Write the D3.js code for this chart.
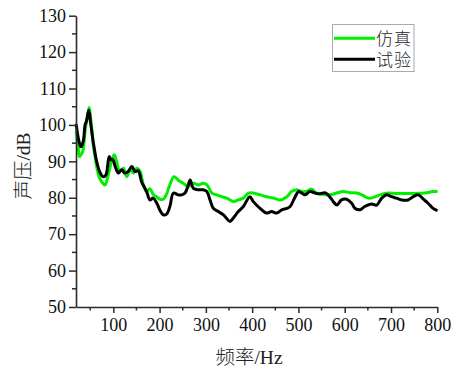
<!DOCTYPE html>
<html>
<head>
<meta charset="utf-8">
<script src="https://cdn.jsdelivr.net/npm/d3@7"></script>
<style>
  html, body { margin: 0; padding: 0; background: #fff; }
  svg { display: block; }
</style>
</head>
<body>
<svg id="chart" width="455" height="370"></svg>
<script>
// Simulated (仿真) sound pressure level, frequency in Hz and level in dB
const simFreq = [20, 24, 27, 31, 34, 39, 42, 45, 48, 51, 57, 64, 70, 75, 82, 89, 97, 102, 107, 114,
  122, 129, 136, 143, 151, 158, 165, 172, 179, 186, 194, 201, 208, 215, 222, 231, 240, 251, 262, 273,
  284, 294, 302, 313, 323, 334, 345, 359, 370, 381, 392, 402, 417, 431, 446, 460, 475, 485, 496, 507,
  518, 528, 539, 554, 568, 583, 597, 611, 626, 637, 651, 662, 676, 694, 712, 734, 755, 773, 791, 798];
const simDb = [98, 94, 91.3, 92, 92.7, 98.2, 101, 103, 104.8, 101.9, 94.5, 88.6, 85.5, 84.4, 83.5, 86.3, 90.4, 91.8, 90, 87.2,
  88.1, 85.8, 87.7, 86.8, 88.1, 87.2, 83.5, 81.7, 82.5, 81, 80.2, 79.6, 79.6, 81, 83.5, 85.8, 84.9, 84, 83.1, 84,
  83.5, 84, 83.6, 81.3, 80.8, 80.3, 79.9, 79, 79.4, 79.9, 81.3, 81.3, 80.8, 80.3, 79.9, 79.4, 80.3, 81.7, 82.2, 81.7,
  81.8, 82.4, 81.3, 80.9, 80.8, 81.3, 81.7, 81.4, 81.3, 80.8, 79.9, 80.1, 80.8, 81.3, 81.2, 81.2, 81.2, 81.3, 81.7, 81.7];

// Measured (试验) sound pressure level
const testFreq = [20, 25, 30, 35, 39, 42, 47, 51, 57, 64, 71, 78, 84, 88, 91, 95, 99, 104, 111, 118,
  125, 132, 140, 147, 154, 161, 172, 179, 186, 194, 201, 208, 215, 222, 230, 240, 248, 255, 262, 266,
  273, 284, 294, 302, 309, 316, 327, 338, 352, 359, 370, 381, 395, 402, 417, 431, 442, 453, 464, 475,
  482, 493, 500, 507, 514, 525, 536, 547, 557, 564, 575, 583, 593, 604, 615, 622, 633, 643, 658, 669,
  680, 691, 701, 712, 723, 737, 748, 759, 770, 780, 791, 798];
const testDb = [100, 96, 94, 95.5, 100, 101, 104, 100.5, 95, 90, 87, 85.8, 86.3, 89, 91.3, 90.4, 90.5, 88.6, 86.8, 87.7,
  86.8, 87.2, 88.6, 87.2, 87.4, 84.4, 81.7, 79.4, 79.9, 78.5, 76.5, 75.3, 75.5, 77.5, 81.3, 80.8, 80.8, 81.3, 83.5, 84.9,
  82.6, 82.2, 82.2, 81.7, 79.4, 77.1, 76.2, 75.3, 73.5, 74.4, 76.2, 77.6, 80.3, 79, 77.1, 75.8, 76.2, 75.8, 76.7, 77.1,
  77.6, 80.3, 81.7, 81.3, 80.8, 81.7, 81.3, 81.1, 81.4, 80.8, 79, 78, 79.4, 79.6, 78.5, 77.1, 76.7, 77.6, 78.3, 78,
  79.9, 80.8, 80.3, 79.9, 79.4, 79.4, 80.3, 80.8, 79.6, 78.5, 77.1, 76.6];

// Axis ticks
const xTicks = [100, 200, 300, 400, 500, 600, 700, 800];
const xMinorTicks = [50, 150, 250, 350, 450, 550, 650, 750];
const yTicks = [50, 60, 70, 80, 90, 100, 110, 120, 130];
const yMinorTicks = [55, 65, 75, 85, 95, 105, 115, 125];

const seriesNames = ["仿真", "试验"];
const seriesColors = ["#00ee00", "#000000"];

const svg = d3.select("#chart");
const plotLeft = 76, plotRight = 437.3, plotTop = 15.7, plotBottom = 307;

const x = d3.scaleLinear().domain([19.4, 800]).range([plotLeft, plotRight]);
const y = d3.scaleLinear().domain([50, 130]).range([plotBottom, plotTop]);

const axisColor = "#2a2a2a";
const serif = "'Liberation Serif', 'Times New Roman', serif";
const cjk = "'Noto Sans CJK SC', 'Liberation Serif', sans-serif";

// Series lines
const line = d3.line()
  .x(d => x(d[0]))
  .y(d => y(d[1]))
  .curve(d3.curveCatmullRom.alpha(0.5));

const series = [
  d3.zip(simFreq, simDb),
  d3.zip(testFreq, testDb)
];

svg.append("g").selectAll("path")
  .data(series)
  .join("path")
  .attr("d", line)
  .attr("fill", "none")
  .attr("stroke", (d, i) => seriesColors[i])
  .attr("stroke-width", 3)
  .attr("stroke-linejoin", "round")
  .attr("stroke-linecap", "round");

// Bottom axis
const xAxis = svg.append("g")
  .attr("transform", `translate(0,${plotBottom})`)
  .call(d3.axisBottom(x).tickValues(xTicks).tickSize(6).tickPadding(5).tickSizeOuter(0));
xAxis.select(".domain").attr("stroke", axisColor).attr("stroke-width", 1.6);
xAxis.selectAll(".tick line").attr("stroke", axisColor).attr("stroke-width", 1.5);
xAxis.selectAll(".tick text").attr("font-size", 18).attr("font-family", serif).attr("fill", "#111");
xAxis.append("g").selectAll("line")
  .data(xMinorTicks)
  .join("line")
  .attr("x1", d => x(d)).attr("x2", d => x(d))
  .attr("y1", 0).attr("y2", 3.5)
  .attr("stroke", axisColor).attr("stroke-width", 1.5);

// Left axis
const yAxis = svg.append("g")
  .attr("transform", `translate(${plotLeft},0)`)
  .call(d3.axisLeft(y).tickValues(yTicks).tickSize(7).tickPadding(3).tickSizeOuter(0));
yAxis.select(".domain").attr("stroke", axisColor).attr("stroke-width", 1.6);
yAxis.selectAll(".tick line").attr("stroke", axisColor).attr("stroke-width", 1.5);
yAxis.selectAll(".tick text").attr("font-size", 18).attr("font-family", serif).attr("fill", "#111");
yAxis.append("g").selectAll("line")
  .data(yMinorTicks)
  .join("line")
  .attr("x1", 0).attr("x2", -4)
  .attr("y1", d => y(d)).attr("y2", d => y(d))
  .attr("stroke", axisColor).attr("stroke-width", 1.5);

// Axis titles
const xTitle = svg.append("text")
  .attr("x", 249).attr("y", 364)
  .attr("text-anchor", "middle")
  .attr("font-size", 19.5).attr("fill", "#222");
xTitle.append("tspan").attr("font-family", cjk).attr("font-weight", 300).text("频率");
xTitle.append("tspan").attr("font-family", serif).text("/Hz");

const yTitle = svg.append("text")
  .attr("transform", "translate(30,166) rotate(-90)")
  .attr("text-anchor", "middle")
  .attr("font-size", 19.5).attr("fill", "#222");
yTitle.append("tspan").attr("font-family", cjk).attr("font-weight", 300).text("声压");
yTitle.append("tspan").attr("font-family", serif).text("/dB");

// Legend
const legend = svg.append("g");
legend.append("rect")
  .attr("x", 332.5).attr("y", 24.5).attr("width", 81.5).attr("height", 47)
  .attr("fill", "#fff").attr("stroke", "#aaa").attr("stroke-width", 1);
seriesNames.forEach((name, i) => {
  const ly = 38.3 + i * 21;
  legend.append("line")
    .attr("x1", 334).attr("x2", 375)
    .attr("y1", ly).attr("y2", ly)
    .attr("stroke", seriesColors[i]).attr("stroke-width", 3);
  legend.append("text")
    .attr("x", 376).attr("y", ly + 7)
    .attr("font-family", "'Liberation Serif', 'Noto Sans CJK SC', serif").attr("font-weight", 300)
    .attr("font-size", 17).attr("letter-spacing", 1).attr("fill", "#222")
    .text(name);
});
</script>
</body>
</html>
